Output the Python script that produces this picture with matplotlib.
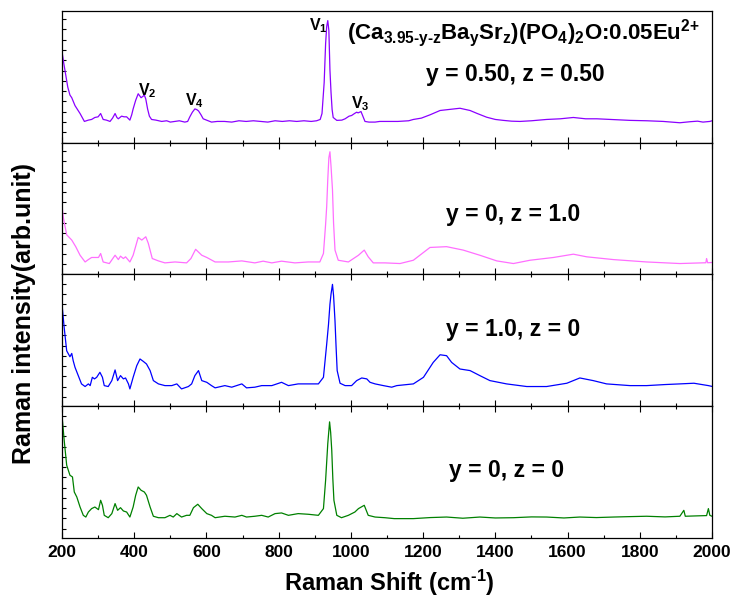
import numpy as np
import matplotlib
matplotlib.use("Agg")
import matplotlib.pyplot as plt
from matplotlib.ticker import MultipleLocator

plt.rcParams['font.family'] = ['Liberation Sans', 'DejaVu Sans']
plt.rcParams['font.weight'] = 'bold'
plt.rcParams['mathtext.fontset'] = 'custom'
plt.rcParams['mathtext.rm'] = 'Liberation Sans:bold'
plt.rcParams['mathtext.bf'] = 'Liberation Sans:bold'
plt.rcParams['mathtext.it'] = 'Liberation Sans:bold'

# y = 0.50, z = 0.50 (top panel)
shift_a = [200, 205, 210, 216, 222, 227, 236, 243, 250, 256,
           262, 268, 273, 282, 291, 300, 307, 314, 323, 333,
           340, 347, 352, 356, 365, 372, 379, 388, 393, 397,
           404, 411, 415, 419, 424, 428, 432, 437, 442, 448,
           460, 476, 490, 500, 512, 525, 540, 548, 554, 561,
           568, 573, 578, 585, 591, 600, 614, 630, 650, 670,
           690, 710, 730, 750, 770, 790, 810, 830, 850, 870,
           890, 905, 915, 920, 926, 930, 933, 936, 939, 942,
           945, 948, 951, 961, 975, 984, 995, 1002, 1010, 1016,
           1020, 1024, 1028, 1033, 1039, 1050, 1067, 1080, 1100, 1130,
           1160, 1173, 1195, 1219, 1247, 1270, 1302, 1330, 1350, 1376,
           1400, 1422, 1445, 1468, 1500, 1542, 1580, 1616, 1650, 1681,
           1720, 1773, 1820, 1865, 1890, 1911, 1940, 1960, 1975, 1994,
           2000]
int_a = [.69, .60, .52, .42, .36, .34, .28, .25, .22, .19,
         .16, .165, .17, .175, .19, .195, .22, .175, .17, .16,
         .185, .22, .19, .18, .20, .195, .195, .17, .21, .255,
         .32, .37, .355, .34, .35, .36, .33, .255, .20, .175,
         .17, .16, .165, .155, .16, .165, .155, .16, .195, .23,
         .255, .25, .24, .21, .18, .17, .155, .16, .16, .155,
         .165, .16, .165, .16, .155, .165, .16, .165, .16, .165,
         .16, .165, .175, .22, .455, .75, .88, .925, .85, .55,
         .38, .25, .19, .168, .17, .18, .20, .205, .22, .23,
         .225, .23, .235, .20, .16, .155, .155, .16, .16, .16,
         .165, .175, .185, .21, .243, .25, .26, .243, .22, .192,
         .175, .168, .162, .16, .165, .175, .18, .19, .18, .18,
         .175, .168, .165, .16, .155, .15, .158, .162, .155, .16,
         .165]

# y = 0, z = 1.0
shift_b = [200, 204, 213, 227, 238, 250, 264, 273, 282, 301,
           307, 314, 331, 347, 356, 362, 370, 376, 388, 397,
           411, 421, 432, 439, 450, 467, 485, 513, 545, 557,
           570, 587, 601, 624, 661, 698, 734, 757, 781, 808,
           845, 882, 914, 924, 930, 933, 936, 939, 942, 945,
           949, 952, 956, 965, 993, 1021, 1037, 1048, 1062, 1094,
           1136, 1173, 1219, 1265, 1311, 1357, 1404, 1450, 1496, 1561,
           1616, 1653, 1727, 1819, 1911, 1983, 1985, 1988, 2000]
int_b = [.52, .426, .30, .26, .21, .145, .094, .112, .128, .128,
         .158, .094, .082, .145, .112, .138, .12, .133, .094, .145,
         .28, .26, .285, .235, .12, .102, .087, .094, .087, .12,
         .19, .145, .128, .094, .094, .102, .087, .10, .087, .10,
         .087, .094, .094, .158, .38, .515, .72, .885, .93, .82,
         .643, .39, .184, .107, .094, .145, .184, .133, .087, .087,
         .082, .107, .204, .21, .184, .145, .102, .082, .107, .128,
         .153, .133, .112, .094, .082, .088, .12, .088, .09]

# y = 1.0, z = 0
shift_c = [200, 206, 213, 222, 227, 231, 236, 245, 254, 264,
           273, 278, 284, 290, 296, 305, 312, 317, 328, 338,
           347, 354, 362, 370, 376, 384, 388, 397, 407, 416,
           425, 434, 444, 453, 467, 485, 504, 518, 531, 550,
           559, 568, 578, 587, 601, 614, 624, 651, 670, 698,
           711, 734, 753, 781, 808, 827, 854, 882, 910, 924,
           933, 938, 942, 945, 949, 952, 956, 959, 962, 970,
           984, 1002, 1016, 1030, 1044, 1053, 1067, 1090, 1113, 1127,
           1173, 1201, 1228, 1247, 1265, 1279, 1302, 1330, 1357, 1385,
           1431, 1487, 1542, 1598, 1634, 1671, 1708, 1773, 1819, 1870,
           1911, 1950, 1990, 2000]
int_c = [.773, .597, .42, .375, .40, .345, .295, .232, .169, .149,
         .169, .156, .219, .207, .219, .257, .219, .156, .149, .194,
         .275, .194, .232, .207, .214, .169, .131, .219, .307, .358,
         .34, .32, .27, .194, .169, .156, .156, .169, .131, .149,
         .169, .232, .27, .194, .181, .156, .139, .156, .144, .169,
         .139, .144, .156, .156, .181, .156, .169, .169, .169, .219,
         .471, .62, .773, .85, .924, .84, .647, .45, .27, .174,
         .156, .156, .194, .214, .207, .181, .169, .156, .144, .156,
         .169, .219, .332, .39, .383, .332, .282, .27, .232, .194,
         .169, .149, .149, .174, .214, .194, .169, .156, .156, .164,
         .169, .174, .156, .15]

# y = 0, z = 0
shift_d = [200, 206, 213, 222, 229, 234, 241, 250, 259, 266,
           273, 282, 291, 301, 307, 312, 317, 328, 338, 347,
           354, 362, 370, 379, 388, 397, 404, 411, 419, 428,
           434, 444, 453, 467, 485, 499, 508, 518, 531, 545,
           554, 564, 576, 587, 601, 614, 624, 651, 679, 698,
           711, 734, 753, 771, 790, 808, 827, 854, 882, 910,
           924, 930, 936, 941, 944, 947, 950, 953, 961, 974,
           993, 1011, 1021, 1037, 1048, 1067, 1094, 1120, 1173, 1220,
           1265, 1310, 1357, 1400, 1450, 1500, 1542, 1590, 1634, 1680,
           1727, 1770, 1819, 1870, 1911, 1922, 1926, 1960, 1985, 1990,
           1994, 2000]
int_d = [.93, .742, .552, .476, .463, .349, .311, .235, .172, .159,
         .197, .223, .235, .215, .286, .248, .172, .154, .185, .261,
         .21, .23, .205, .197, .159, .235, .324, .387, .362, .349,
         .324, .235, .165, .154, .154, .172, .159, .185, .159, .172,
         .172, .23, .256, .223, .185, .172, .154, .165, .159, .172,
         .159, .165, .172, .159, .185, .19, .172, .185, .18, .172,
         .223, .438, .716, .881, .80, .666, .45, .286, .172, .154,
         .172, .197, .223, .248, .172, .159, .154, .147, .147, .155,
         .159, .15, .159, .152, .154, .16, .159, .152, .159, .155,
         .159, .162, .165, .16, .165, .21, .165, .168, .17, .223,
         .172, .165]

shifts = [shift_a, shift_b, shift_c, shift_d]
intensities = [int_a, int_b, int_c, int_d]
colors = ['#8A00FF', '#FF6EFF', '#0000FF', '#008000']
panel_labels = ['y = 0.50, z = 0.50', 'y = 0, z = 1.0', 'y = 1.0, z = 0', 'y = 0, z = 0']
label_pos = [(515, 81), (513, 221), (513, 336), (507, 477)]  # pixels (center x, baseline y)
ytick_start = [0.0, 0.0, 0.07, 0.07]

W, H = 735, 612
fig, axes = plt.subplots(4, 1, sharex=True, figsize=(W / 100, H / 100), dpi=100)
plt.subplots_adjust(left=62 / W, right=712 / W, top=1 - 10.7 / H, bottom=1 - 538 / H, hspace=0)

for i, ax in enumerate(axes):
    ax.plot(shifts[i], intensities[i], color=colors[i], lw=0.9)
    ax.set_xlim(200, 2000)
    ax.set_ylim(0, 1)
    ax.set_yticks(np.arange(ytick_start[i], 0.99, 0.078))
    ax.tick_params(axis='y', direction='in', length=3, width=0.8, labelleft=False)
    ax.xaxis.set_major_locator(MultipleLocator(200))
    ax.xaxis.set_minor_locator(MultipleLocator(100))
    ax.tick_params(axis='x', which='major', direction='in', length=4, width=0.8,
                   top=(i > 0), labelsize=12.5, pad=5)
    ax.tick_params(axis='x', which='minor', direction='in', length=2.5, width=0.8, top=(i > 0))
    for s in ax.spines.values():
        s.set_linewidth(0.9)
    cx, by = label_pos[i]
    fig.text(cx / W, 1 - by / H, panel_labels[i], ha='center', va='baseline',
             fontsize=16.5, fontweight='bold')

for lab in axes[-1].get_xticklabels():
    lab.set_fontweight('bold')

# formula
fig.text(347 / W, 1 - 39 / H,
         r'(Ca$_{3.95\text{-}y\text{-}z}$Ba$_{y}$Sr$_{z}$)(PO$_{4}$)$_{2}$O:0.05Eu$^{2\text{+}}$',
         ha='left', va='baseline', fontsize=16, fontweight='bold')

# peak labels
peaks = [(r'V$_{1}$', 318, 30), (r'V$_{2}$', 147, 95),
         (r'V$_{4}$', 194, 105), (r'V$_{3}$', 360, 108)]
for txt, px, py in peaks:
    fig.text(px / W, 1 - py / H, txt, ha='center', va='baseline', fontsize=11.5,
             fontweight='bold')

fig.text(389 / W, 1 - 583 / H, r'Raman Shift (cm$^{\text{-}1}$)', ha='center', va='center',
         fontsize=17, fontweight='bold')
fig.text(24 / W, 1 - 313 / H, 'Raman intensity(arb.unit)', ha='center', va='center',
         rotation=90, fontsize=18, fontweight='bold')

fig.savefig('out.png', dpi=100)
